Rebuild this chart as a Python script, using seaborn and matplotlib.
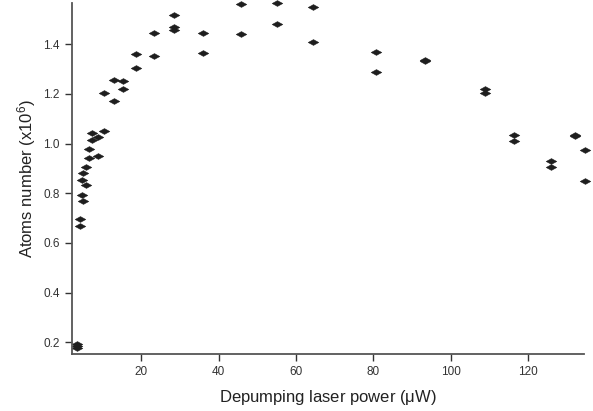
import matplotlib
matplotlib.use("Agg")
import matplotlib.pyplot as plt
from matplotlib.path import Path
import seaborn as sns
import pandas as pd

# Data (power in uW, atoms in 1e6)
power = [3.3, 3.3, 3.3, 4.0, 4.0, 4.7, 5.0, 4.7, 5.6, 5.0, 5.6, 6.4, 6.4,
         7.3, 7.3, 8.8, 8.8, 10.2, 10.2, 12.8, 12.8, 15.3, 15.3, 18.6, 18.6,
         23.2, 23.2, 28.3, 28.5, 28.5, 36.0, 36.0, 45.7, 45.7, 55.0, 55.0,
         64.3, 64.3, 80.7, 80.7, 93.4, 93.4, 108.9, 108.9, 116.3, 116.3,
         126.0, 126.0, 132.2, 132.2, 134.8, 134.8]
atoms = [0.192, 0.185, 0.178, 0.695, 0.668, 0.794, 0.769, 0.853, 0.832, 0.880,
         0.907, 0.977, 0.944, 1.041, 1.014, 1.025, 0.951, 1.052, 1.202, 1.256,
         1.170, 1.250, 1.218, 1.361, 1.304, 1.445, 1.351, 1.516, 1.468, 1.458,
         1.446, 1.364, 1.560, 1.442, 1.564, 1.480, 1.549, 1.411, 1.368, 1.287,
         1.338, 1.332, 1.218, 1.202, 1.034, 1.010, 0.929, 0.906, 1.036, 1.032,
         0.973, 0.848]

x_ticks = [20, 40, 60, 80, 100, 120]
y_ticks = [0.2, 0.4, 0.6, 0.8, 1.0, 1.2, 1.4]

df = pd.DataFrame({"power": power, "atoms": atoms})

sns.set_style("ticks")
plt.rcParams['font.family'] = ['Liberation Sans', 'DejaVu Sans']
plt.rcParams['mathtext.fontset'] = 'custom'
plt.rcParams['mathtext.rm'] = 'Liberation Sans'
plt.rcParams['mathtext.it'] = 'Liberation Sans'

# flat diamond marker
diamond = Path([(-1, 0), (0, 0.55), (1, 0), (0, -0.55), (-1, 0)],
               [Path.MOVETO, Path.LINETO, Path.LINETO, Path.LINETO, Path.CLOSEPOLY])

fig, ax = plt.subplots(figsize=(5.93, 4.11), dpi=100)
fig.subplots_adjust(left=0.1206, right=0.985, bottom=0.1387, top=0.9927)

sns.scatterplot(data=df, x="power", y="atoms", marker=diamond, s=60,
                color="#1e1e1e", edgecolor="#1e1e1e", linewidth=0.3,
                clip_on=False, ax=ax)

ax.set_xlim(1.9, 134.5)
ax.set_ylim(0.153, 1.566)
ax.set_xticks(x_ticks)
ax.set_yticks(y_ticks)
ax.set_yticklabels([f"{v:.1f}" for v in y_ticks])

sns.despine(ax=ax)
for side in ["left", "bottom"]:
    ax.spines[side].set_color("#555555")
    ax.spines[side].set_linewidth(1.3)
ax.tick_params(axis="both", colors="#333333", labelsize=8.5, length=5,
               width=1.0, direction="out")

ax.set_xlabel("Depumping laser power ($\\mu$W)", fontsize=12, color="#222222",
              labelpad=7)
ax.set_ylabel("Atoms number (x10$^6$)", fontsize=12, color="#222222",
              labelpad=4)

fig.savefig("out.png", dpi=100)
